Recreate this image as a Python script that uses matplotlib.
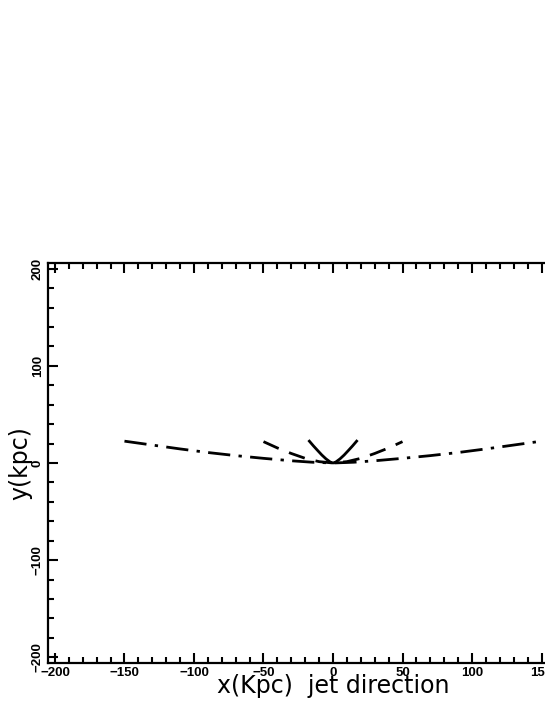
import numpy as np
import matplotlib
matplotlib.use('Agg')
import matplotlib.pyplot as plt
from matplotlib.ticker import MultipleLocator

# curve values (kpc)
x_dashdot = [-150, -130, -110, -90, -70, -50, -30, -15, 0, 15, 30, 50, 70, 90, 110, 130, 150]
y_dashdot = [22.5, 18.5, 14.5, 10.8, 7.6, 4.8, 2.3, 0.8, 0, 0.8, 2.3, 4.8, 7.6, 10.8, 14.5, 18.5, 22.5]

x_dashed = [-50, -40, -30, -20, -10, 0, 10, 20, 30, 40, 50]
y_dashed = [22.0, 15.5, 9.8, 4.8, 1.4, 0, 1.4, 4.8, 9.8, 15.5, 22.0]

x_solid = [-17, -14, -11, -8, -5, -2, 0, 2, 5, 8, 11, 14, 17]
y_solid = [22.5, 17.5, 12.8, 8.2, 4.2, 1.0, 0, 1.0, 4.2, 8.2, 12.8, 17.5, 22.5]

x_ticks = [-200, -150, -100, -50, 0, 50, 100, 150, 200]
y_ticks = [-200, -100, 0, 100, 200]

fig = plt.figure(figsize=(5.45, 7.05), dpi=100)
ax = fig.add_axes([48 / 545, 42 / 705, 570 / 545, 400 / 705])

ax.plot(x_dashdot, y_dashdot, color='black', lw=2.0, dashes=(8, 3, 1.2, 3))
ax.plot(x_dashed, y_dashed, color='black', lw=2.0, dashes=(6, 4))
ax.plot(x_solid, y_solid, color='black', lw=2.0)

ax.set_xlim(-205, 205)
ax.set_ylim(-206, 206)

ax.set_xticks(x_ticks)
ax.set_yticks(y_ticks)
ax.xaxis.set_minor_locator(MultipleLocator(10))
ax.yaxis.set_minor_locator(MultipleLocator(20))
ax.tick_params(which='both', direction='in', top=True, right=True, width=1.5)
ax.tick_params(which='major', length=7, pad=3)
ax.tick_params(which='minor', length=4)
for s in ax.spines.values():
    s.set_linewidth(1.6)

ax.set_xticklabels([f"{t:d}".replace('-', '\u2212') for t in x_ticks],
                   fontsize=9.5, fontweight='bold', family='Liberation Sans')
ax.set_yticklabels([f"{t:d}".replace('-', '\u2212') for t in y_ticks],
                   fontsize=9.5, fontweight='bold', family='Liberation Sans',
                   rotation=90, va='center')

fig.text(333 / 545, 1 - 686 / 705, 'x(Kpc)  jet direction', ha='center', va='center',
         fontsize=17, family='DejaVu Sans')
fig.text(20 / 545, 1 - 463 / 705, 'y(kpc)', ha='center', va='center', rotation=90,
         fontsize=17, family='DejaVu Sans')

fig.savefig('out.png', dpi=100)
